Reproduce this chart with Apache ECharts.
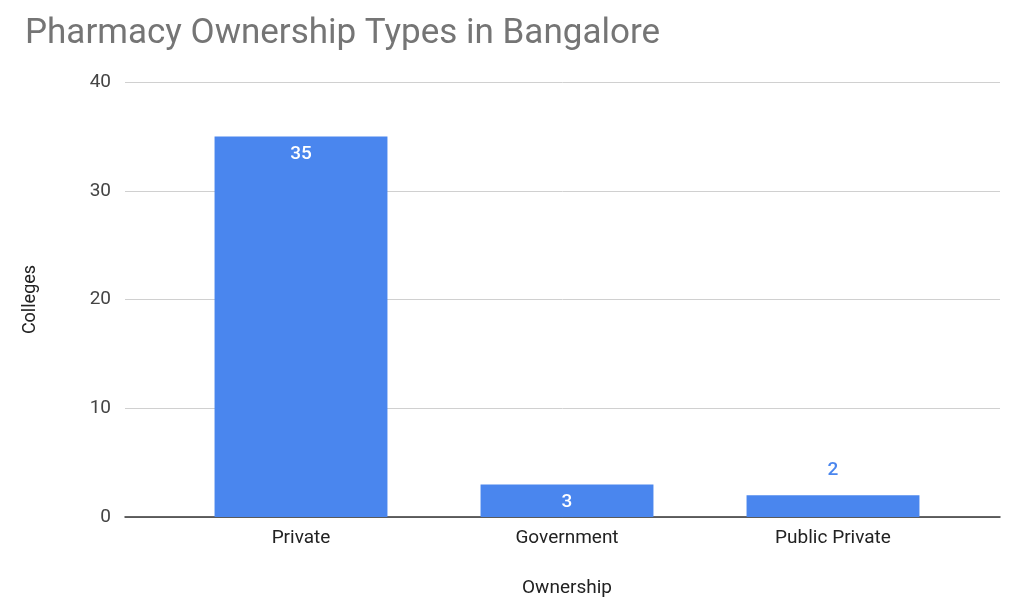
<!DOCTYPE html>
<html><head><meta charset="utf-8">
<script src="https://cdn.jsdelivr.net/npm/echarts@6/dist/echarts.min.js"></script>
<style>html,body{margin:0;padding:0;background:#fff}#c{width:1024px;height:614px}</style>
</head><body><div id="c"></div>
<script>
var categories = ["Private", "Government", "Public Private"];
var values = [35, 3, 2];
var yTicks = {min: 0, max: 40, interval: 10};

var font = 'Roboto';
var chart = echarts.init(document.getElementById('c'));
chart.setOption({
  animation: false,
  title: {text: 'Pharmacy Ownership Types in Bangalore', left: 20, top: 12,
    textStyle: {fontFamily: font, fontSize: 35, fontWeight: 'normal', color: '#757575'}},
  grid: [{left: 125, right: 24, top: 82, bottom: 97},
         {left: 168, right: 58, top: 82, bottom: 97}],
  xAxis: [{type: 'value', gridIndex: 0, min: 0, max: 1, show: true, splitLine: {show: false},
      axisLabel: {show: false}, axisTick: {show: false}, axisLine: {show: true, onZero: false, lineStyle: {color: '#333', width: 1.5}}},
    {type: 'category', gridIndex: 1, data: categories, name: 'Ownership', nameLocation: 'middle', nameGap: 62,
    nameTextStyle: {fontFamily: font, fontSize: 19, color: '#222'},
    axisTick: {show: false}, axisLine: {show: false},
    axisLabel: {fontFamily: font, fontSize: 19, color: '#222', margin: 12}}],
  yAxis: [{type: 'value', gridIndex: 0, min: yTicks.min, max: yTicks.max, interval: yTicks.interval,
    name: 'Colleges', nameLocation: 'middle', nameGap: 86, nameRotate: 90,
    nameTextStyle: {fontFamily: font, fontSize: 18, color: '#222'},
    axisLine: {show: false}, axisTick: {show: false},
    axisLabel: {fontFamily: font, fontSize: 19, color: '#444', margin: 14},
    splitLine: {lineStyle: {color: '#d0d0d0'}}},
    {type: 'value', gridIndex: 1, min: yTicks.min, max: yTicks.max, interval: yTicks.interval, show: false}],
  series: [{type: 'bar', xAxisIndex: 1, yAxisIndex: 1, barWidth: '65%',
    itemStyle: {color: '#4a86ee'},
    data: values.map(function(v){
      return v >= 3 ? {value: v, label: {show: true, position: 'insideTop', color: '#fff', distance: 8}}
                    : {value: v, label: {show: true, position: 'top', color: '#4a86ee', distance: 16}};
    }),
    label: {fontFamily: font, fontSize: 19, fontWeight: 500}}]
});
</script></body></html>
